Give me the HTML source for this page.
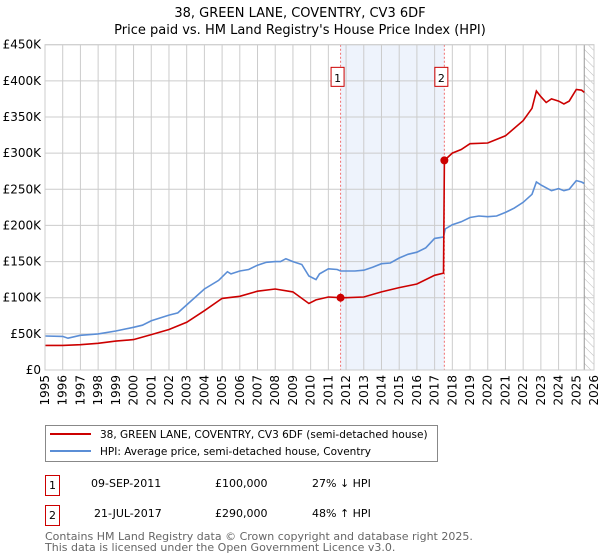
<!DOCTYPE html>
<html><head><meta charset="utf-8"><style>
body{margin:0;background:#fff;font-family:"DejaVu Sans","Liberation Sans",sans-serif;}
#wrap{position:relative;width:600px;height:560px;overflow:hidden;}
</style></head><body><div id="wrap">
<svg id="chart" width="600" height="560" font-family="DejaVu Sans, Liberation Sans, sans-serif">
<defs><pattern id="hatch" width="6" height="6" patternUnits="userSpaceOnUse" patternTransform="rotate(-45)"><line x1="0" y1="0" x2="0" y2="6" stroke="#bbb" stroke-width="1"/></pattern></defs>
<text x="300" y="17" text-anchor="middle" font-size="13">38, GREEN LANE, COVENTRY, CV3 6DF</text>
<text x="300" y="34" text-anchor="middle" font-size="13">Price paid vs. HM Land Registry's House Price Index (HPI)</text>
<g id="grid"></g><g id="marks"></g><g id="axes"></g>
<g>
<rect x="45.5" y="425.5" width="392" height="36" fill="#fff" stroke="#888"/>
<line x1="50" y1="434" x2="91" y2="434" stroke="#cc0000" stroke-width="2"/>
<text x="100" y="438" font-size="10.5">38, GREEN LANE, COVENTRY, CV3 6DF (semi-detached house)</text>
<line x1="50" y1="451" x2="91" y2="451" stroke="#5b8ed6" stroke-width="2"/>
<text x="100" y="455" font-size="10.5">HPI: Average price, semi-detached house, Coventry</text>
</g>
<g font-size="11">
<rect x="45.5" y="475.5" width="14" height="20" fill="none" stroke="#cc0000"/><text x="52.5" y="489" text-anchor="middle">1</text>
<text x="91" y="487">09-SEP-2011</text><text x="215" y="487">£100,000</text><text x="312" y="487">27% ↓ HPI</text>
<rect x="45.5" y="505.5" width="14" height="20" fill="none" stroke="#cc0000"/><text x="52.5" y="519" text-anchor="middle">2</text>
<text x="94" y="517">21-JUL-2017</text><text x="215" y="517">£290,000</text><text x="312" y="517">48% ↑ HPI</text>
</g>
<text x="45" y="540" font-size="11" fill="#666">Contains HM Land Registry data © Crown copyright and database right 2025.</text>
<text x="45" y="551" font-size="11" fill="#666">This data is licensed under the Open Government Licence v3.0.</text>
</svg></div>
<script>
const hpiYears=[1995,1996,1996.3,1997,1998,1999,2000,2000.5,2001,2002,2002.5,2003,2004,2004.8,2005.3,2005.5,2006,2006.5,2007,2007.5,2008,2008.3,2008.6,2009,2009.5,2009.9,2010.3,2010.5,2011,2011.5,2011.69,2012,2012.5,2013,2013.5,2014,2014.5,2015,2015.5,2016,2016.5,2017,2017.5,2017.6,2018,2018.5,2019,2019.5,2020,2020.5,2021,2021.5,2022,2022.5,2022.75,2023,2023.3,2023.6,2024,2024.3,2024.6,2025,2025.3,2025.45];
const hpiValues=[47,46.5,44,48,50,54,59,62,68,76,79,90,112,124,136,133,137,139,145,149,150,150,154,150,146,130,125,133,140,139,137,137,137,138,142,147,148,155,160,163,169,182,184,195,201,205,211,213,212,213,218,224,232,243,260,256,252,248,251,248,250,262,260,258];
const priceYears=[1995,1996,1997,1998,1999,2000,2001,2002,2003,2004,2005,2006,2007,2008,2009,2009.9,2010.3,2011,2011.69,2012,2013,2014,2015,2016,2017,2017.5,2017.55,2018,2018.5,2019,2020,2021,2022,2022.5,2022.75,2023,2023.3,2023.6,2024,2024.3,2024.6,2025,2025.3,2025.45];
const priceValues=[34,34,35,37,40,42,49,56,66,82,99,102,109,112,108,92,97,101,100,100,101,108,114,119,131,134,290,300,305,313,314,324,345,362,386,378,370,375,372,368,372,388,387,384];
const saleYears=[2011.69,2017.55];
const saleValues=[100,290];
const yTicks=[0,50,100,150,200,250,300,350,400,450];
const yTickLabels=["£0","£50K","£100K","£150K","£200K","£250K","£300K","£350K","£400K","£450K"];
const xTicks=[1995,1996,1997,1998,1999,2000,2001,2002,2003,2004,2005,2006,2007,2008,2009,2010,2011,2012,2013,2014,2015,2016,2017,2018,2019,2020,2021,2022,2023,2024,2025,2026];
const NS="http://www.w3.org/2000/svg";
const L=45,R=594,T=44.7,B=370;
const X=y=>L+(y-1995)/(2026-1995)*(R-L);
const Y=v=>B-v/450*(B-T);
function mk(tag,attrs,parent){const e=document.createElementNS(NS,tag);for(const k in attrs)e.setAttribute(k,attrs[k]);parent.appendChild(e);return e;}
const grid=document.getElementById('grid'),marks=document.getElementById('marks'),axes=document.getElementById('axes');
let sh=mk('rect',{x:X(saleYears[0]),y:T,width:X(saleYears[1])-X(saleYears[0]),height:B-T,fill:'#eef3fc'},grid);


let ht=mk('rect',{x:X(2025.45),y:T,width:R-X(2025.45),height:B-T,fill:'url(#hatch)'},grid);


yTicks.forEach((v,i)=>{
 mk('line',{x1:L,x2:R,y1:Y(v),y2:Y(v),stroke:'#ccc'},grid);
 const t=mk('text',{x:L-4,y:Y(v)+4,'text-anchor':'end','font-size':12},axes);t.textContent=yTickLabels[i];
 
 
});
xTicks.forEach(yr=>{
 mk('line',{x1:X(yr),x2:X(yr),y1:T,y2:B,stroke:'#ccc'},grid);
 const t=mk('text',{transform:`translate(${X(yr)+4},${B+5}) rotate(-90)`,'text-anchor':'end','font-size':12},axes);t.textContent=yr;
 
 
});
mk('line',{x1:X(2025.45),x2:X(2025.45),y1:T,y2:B,stroke:'#999'},grid);
saleYears.forEach((yr,i)=>{
 const l=mk('line',{x1:X(yr),x2:X(yr),y1:T,y2:B,stroke:'#f07070','stroke-dasharray':'2,2'},grid);
 
 
 const g=mk('g',{},axes);
 
 
 mk('rect',{x:X(yr)-9.5,y:Y(400)-13.5,width:13,height:19,fill:'#fff',stroke:'#cc0000'},g);
 const t=mk('text',{x:X(yr)-3,y:Y(400)+1,'text-anchor':'middle','font-size':11},g);t.textContent=i+1;
});
function path(xs,vs,color,name){
 const d=xs.map((x,i)=>(i?'L':'M')+X(x).toFixed(1)+','+Y(vs[i]).toFixed(1)).join('');
 const p=mk('path',{d:d,fill:'none',stroke:color,'stroke-width':1.6},marks);
 
 
}
path(hpiYears,hpiValues,'#5b8ed6','hpi-line');
path(priceYears,priceValues,'#cc0000','price-paid-line');
saleYears.forEach((yr,i)=>{
 const c=mk('circle',{cx:X(yr),cy:Y(saleValues[i]),r:4,fill:'#cc0000'},marks);
 
 
});
mk('rect',{x:L,y:T,width:R-L,height:B-T,fill:'none',stroke:'#ccc'},axes);
</script></body></html>
